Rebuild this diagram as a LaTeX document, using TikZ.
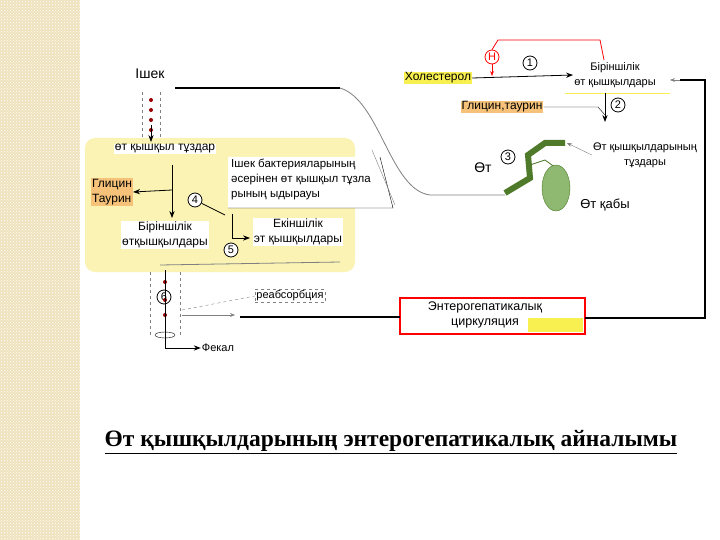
\documentclass[tikz,border=0pt]{standalone}
\usepackage{fontspec}
\setmainfont{Liberation Serif}
\newfontfamily\lsans{Liberation Sans}
\usetikzlibrary{arrows.meta,patterns}
\definecolor{strip}{HTML}{EFE3BE}
\definecolor{paley}{HTML}{FAF3B4}
\definecolor{org}{HTML}{F6C27A}
\definecolor{ylw}{HTML}{F8F050}
\definecolor{gdark}{HTML}{4E7A2A}
\definecolor{gfill}{HTML}{8FB870}
\newcommand\fs[1]{\lsans\fontsize{#1}{15}\selectfont}
\tikzset{
 lbl/.style={fill=white,font=\fs{12},align=center,inner sep=1pt},
 num/.style={circle,draw,thick,inner sep=0.5pt,minimum size=14pt,font=\fs{11},fill=white},
 arr/.style={-{Stealth[length=7pt]},thick},
 thk/.style={line width=2.5pt},
}
\begin{document}
\begin{tikzpicture}[x=1pt,y=-1pt]
\useasboundingbox (0,0) rectangle (720,540);
\fill[white] (0,0) rectangle (720,540);
\fill[strip] (0,0) rectangle (80,540);
\pattern[pattern=crosshatch dots,pattern color=white] (0,0) rectangle (80,540);
% yellow region
\fill[paley,rounded corners=10pt] (85,138) rectangle (355,272);
% intestine top line + bile duct
\draw[thk] (175,88) -- (340,88);
\draw[gray,thick] (340,88) .. controls (380,100) and (390,190) .. (430,195) -- (505,195);
% intestine tube
\draw[dashed,gray] (142,92) -- (142,140) (160,92) -- (160,140);
\foreach \y in {100,110,120,130} \fill[red!60!black] (151,\y) circle (2);
\draw[arr] (151,125) -- (151,142);
% left labels
\node[lbl,font=\fs{14}] (isek) at (150,74) {Ішек};
\node[lbl] (tuz) at (165,149) {өт қышқыл тұздар};
\node[fill=org,font=\fs{12},align=left,inner sep=1pt] (glic) at (112,192) {Глицин\\Таурин};
\node[lbl] (bir) at (165,235) {Біріншілік\\өтқышқылдары};
\node[lbl] (ekin) at (298,232) {Екіншілік\\эт қышқылдары};
\coordinate (cA) at (228,157); \coordinate (cB) at (380,157);
\coordinate (cC) at (393,208); \coordinate (cD) at (228,208);
\fill[white] (cA) -- (cB) -- (cC) -- (cD) -- cycle;
\draw (cB) -- (cC) -- (cD);
\node[font=\fs{11.5},align=left,anchor=north west,inner sep=1pt] (bact) at (230,158) {Ішек бактерияларының\\әсерінен өт қышқыл тұзла\\рының ыдырауы};
\draw[gray] (372,150) -- (395,205);
\node[num] (n4) at (195,200) {4};
\node[num] (n5) at (231,250) {5};
\node[num] (n6) at (164,297) {6};
\draw[arr] (172,165) -- (172,218);
\draw[arr] (172,190) -- (glic.east);
\draw[thick] (n4) -- (225,215);
\draw[arr] (232,214) -- (232,238) -- (250,238);
\draw[gray,thick] (160,265) -- (340,262);
\draw[dashed,gray] (150,272) -- (150,335) (180,272) -- (180,335);
\foreach \y in {282,300,315} \fill[red!60!black] (165,\y) circle (2);
\draw (165,335) ellipse (10 and 3);
\node[font=\fs{11},inner sep=1pt] (fek) at (218,348) {Фекал};
\draw[arr] (165,270) -- (165,348) -- (fek.west);
\node[draw=gray,dashed,font=\fs{11},inner sep=1.5pt] (reab) at (290,296) {реабсорбция};
\draw[gray,-{Stealth}] (182,315) -- (235,315);
\draw[gray,dashed] (182,310) -- (reab.west);
% right part
\node[fill=ylw,font=\fs{12},inner sep=1pt] (chol) at (438,78) {Холестерол};
\node[lbl,font=\fs{11}] (bir2) at (615,75) {Біріншілік\\өт қышқылдары};
\draw[ylw,thick] (565,93) -- (670,93);
\node[num,draw=red,text=red] (nh) at (492,57) {H};
\draw[red,thick] (nh.north) -- (498,40) -- (600,40) -- (604,60);
\draw[red,-{Stealth}] (nh.south) -- (492,76);
\node[num] (n1) at (530,63) {1};
\draw[arr] (chol.east) -- (bir2.west);
\node[fill=org,font=\fs{12},inner sep=1pt] (glic2) at (502,107) {Глицин,таурин};
\node[num] (n2) at (618,105) {2};
\draw[arr] (605,93) -- (605,122);
\draw (glic2.east) -- (598,107) -- (605,115);
\node[lbl,font=\fs{11}] (tuz2) at (645,155) {Өт қышқылдарының\\тұздары};
\node[lbl,font=\fs{14}] (ot) at (483,168) {Өт};
\node[num] (n3) at (508,157) {3};
\draw[gdark,line width=6pt] (505,193) -- (530,178) -- (528,155) -- (545,143) -- (565,143);
\draw[gray,-{Stealth}] (tuz2.west) -- (567,143);
\draw[gdark,thick] (530,165) -- (545,160) -- (556,168);
\draw[gdark,fill=gfill] (556,188) ellipse (14 and 23);
\node[lbl,font=\fs{13}] (kab) at (605,205) {Өт қабы};
% circulation box
\draw[red,line width=2.5pt,fill=white] (400,298) rectangle (585,334);
\fill[ylw] (528,318) rectangle (583,332);
\node[font=\fs{12.5},align=center,inner sep=1pt] (ent) at (485,315) {Энтерогепатикалық\\циркуляция};
\draw[thk] (240,317) -- (400,317);
\draw[thk] (585,318) -- (705,318) -- (705,80) -- (680,80);
\draw[gray,-{Stealth}] (680,80) -- (670,80);
% title
\node[font=\bfseries\fontsize{23.5}{27}\selectfont,inner sep=1pt] (title) at (391,442) {\underline{Өт қышқылдарының энтерогепатикалық айналымы}};
\end{tikzpicture}
\end{document}
